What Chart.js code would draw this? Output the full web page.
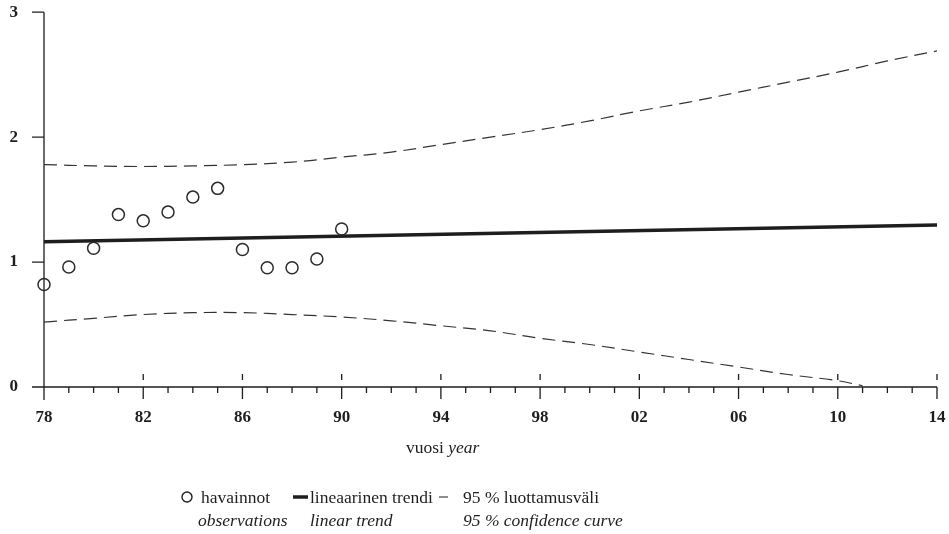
<!DOCTYPE html>
<html>
<head>
<meta charset="utf-8">
<script src="https://cdn.jsdelivr.net/npm/chart.js@4.4.1/dist/chart.umd.min.js"></script>
<style>
  html, body { margin: 0; padding: 0; background: #ffffff; }
  #wrap { width: 949px; height: 534px; }
</style>
</head>
<body>
<div id="wrap"><canvas id="c" width="949" height="534"></canvas></div>
<script>
// Observations (year, value)
const obsYears  = [1978, 1979, 1980, 1981, 1982, 1983, 1984, 1985, 1986, 1987, 1988, 1989, 1990];
const obsValues = [0.82, 0.96, 1.11, 1.38, 1.33, 1.40, 1.52, 1.59, 1.10, 0.955, 0.955, 1.025, 1.265];

// Linear trend end points
const trendYears  = [1978, 2014];
const trendValues = [1.163, 1.296];

// 95 % confidence curve
const upperYears  = [1978, 1980, 1982, 1984, 1986, 1988, 1990, 1992, 1994, 1996, 1998, 2000, 2002, 2004, 2006, 2008, 2010, 2012, 2014];
const upperValues = [1.78, 1.77, 1.765, 1.77, 1.78, 1.80, 1.84, 1.88, 1.94, 2.00, 2.06, 2.13, 2.21, 2.28, 2.36, 2.44, 2.52, 2.61, 2.69];
const lowerYears  = [1978, 1980, 1982, 1984, 1986, 1988, 1990, 1992, 1994, 1996, 1998, 2000, 2002, 2004, 2006, 2008, 2010, 2011];
const lowerValues = [0.52, 0.55, 0.58, 0.595, 0.595, 0.58, 0.56, 0.53, 0.49, 0.45, 0.39, 0.34, 0.28, 0.22, 0.16, 0.10, 0.05, 0.01];

// Axis ticks
const xTickYears  = [1978, 1982, 1986, 1990, 1994, 1998, 2002, 2006, 2010, 2014];
const xTickLabels = ['78', '82', '86', '90', '94', '98', '02', '06', '10', '14'];
const yTickValues = [0, 1, 2, 3];

const INK = '#1e1e1e';
const SERIF = '"Liberation Serif", "Times New Roman", serif';

const pts = (xs, ys) => xs.map((x, i) => ({ x: x, y: ys[i] }));

// Axis lines, year ticks and the texts below the plot
const axisMarks = {
  id: 'axisMarks',
  beforeDatasetsDraw(chart) {
    const ctx = chart.ctx;
    const xs = chart.scales.x, ys = chart.scales.y;
    const a = chart.chartArea;
    const x0 = xs.getPixelForValue(xs.min);
    const y0 = ys.getPixelForValue(0);
    ctx.save();
    ctx.strokeStyle = INK;
    ctx.lineWidth = 1.3;
    ctx.beginPath();
    // vertical axis, running a little below the horizontal one
    ctx.moveTo(x0, a.top); ctx.lineTo(x0, y0 + 13);
    // horizontal axis, starting a little left of the vertical one
    ctx.moveTo(x0 - 12, y0); ctx.lineTo(a.right, y0);
    // value ticks to the left
    yTickValues.forEach(v => {
      const py = ys.getPixelForValue(v);
      ctx.moveTo(x0 - 12, py); ctx.lineTo(x0, py);
    });
    // yearly ticks, longer ones with a short mark above the axis at labelled years
    for (let yr = xs.min; yr <= xs.max; yr++) {
      const px = xs.getPixelForValue(yr);
      const major = xTickYears.includes(yr);
      ctx.moveTo(px, y0); ctx.lineTo(px, y0 + (major ? 12 : 6));
      if (major && yr !== xs.min) {
        ctx.moveTo(px, y0 - 13); ctx.lineTo(px, y0 - 7);
      }
    }
    ctx.stroke();
    ctx.restore();
  },
  afterDraw(chart) {
    const ctx = chart.ctx;
    ctx.save();
    ctx.fillStyle = INK;
    ctx.textBaseline = 'alphabetic';
    ctx.textAlign = 'left';
    const reg = '17.5px ' + SERIF;
    const ita = 'italic 17.5px ' + SERIF;

    // axis title: "vuosi year"
    ctx.font = reg;
    const w1 = ctx.measureText('vuosi ').width;
    ctx.fillText('vuosi ', 406, 453);
    ctx.font = ita;
    ctx.fillText('year', 406 + w1, 453);

    // legend keys
    ctx.strokeStyle = INK;
    ctx.lineWidth = 1.4;
    ctx.beginPath();
    ctx.arc(187, 497, 5, 0, Math.PI * 2);
    ctx.stroke();
    ctx.lineWidth = 3.5;
    ctx.beginPath();
    ctx.moveTo(293, 497); ctx.lineTo(308, 497);
    ctx.stroke();
    ctx.lineWidth = 1;
    ctx.beginPath();
    ctx.moveTo(439, 497); ctx.lineTo(448, 497);
    ctx.stroke();

    // legend texts
    ctx.font = reg;
    ctx.fillText('havainnot', 201, 503);
    ctx.fillText('lineaarinen trendi', 310, 503);
    ctx.fillText('95 % luottamusväli', 463, 503);
    ctx.font = ita;
    ctx.fillText('observations', 198, 526);
    ctx.fillText('linear trend', 310, 526);
    ctx.fillText('95 % confidence curve', 463, 526);
    ctx.restore();
  }
};

// invisible tick marks only reserve room between the axes and their labels
const spacerGrid = len => ({
  display: true,
  drawOnChartArea: false,
  drawTicks: true,
  tickLength: len,
  color: 'rgba(0,0,0,0)'
});

new Chart(document.getElementById('c'), {
  type: 'scatter',
  data: {
    datasets: [
      {
        label: 'havainnot',
        data: pts(obsYears, obsValues),
        showLine: false,
        clip: false,
        pointStyle: 'circle',
        pointRadius: 6,
        pointBorderWidth: 1.5,
        pointBorderColor: '#2a2a2a',
        pointBackgroundColor: 'rgba(0,0,0,0)'
      },
      {
        label: 'lineaarinen trendi',
        data: pts(trendYears, trendValues),
        showLine: true,
        borderColor: INK,
        borderWidth: 3.5,
        pointRadius: 0
      },
      {
        label: '95 % luottamusväli',
        data: pts(upperYears, upperValues),
        showLine: true,
        borderColor: '#333333',
        borderWidth: 1.2,
        borderDash: [13, 7],
        tension: 0.4,
        pointRadius: 0
      },
      {
        label: '95 % luottamusväli (ala)',
        data: pts(lowerYears, lowerValues),
        showLine: true,
        borderColor: '#333333',
        borderWidth: 1.2,
        borderDash: [13, 7],
        tension: 0.4,
        pointRadius: 0
      }
    ]
  },
  options: {
    responsive: false,
    devicePixelRatio: 1,
    animation: false,
    layout: { padding: { top: 12, right: 12, left: 0, bottom: 0 } },
    plugins: { legend: { display: false }, tooltip: { enabled: false } },
    scales: {
      x: {
        type: 'linear',
        min: 1978,
        max: 2014,
        afterBuildTicks: s => { s.ticks = xTickYears.map(v => ({ value: v })); },
        afterFit: s => { s.height = 147; },
        grid: spacerGrid(19),
        border: { display: false },
        ticks: {
          autoSkip: false,
          maxRotation: 0,
          padding: 1,
          color: INK,
          font: { family: SERIF, size: 17, weight: 'bold' },
          callback: v => xTickLabels[xTickYears.indexOf(v)]
        }
      },
      y: {
        min: 0,
        max: 3,
        afterBuildTicks: s => { s.ticks = yTickValues.map(v => ({ value: v })); },
        afterFit: s => { s.width = 44; },
        grid: spacerGrid(24),
        border: { display: false },
        ticks: {
          padding: 2,
          color: INK,
          font: { family: SERIF, size: 17, weight: 'bold' },
          callback: v => String(v)
        }
      }
    }
  },
  plugins: [axisMarks]
});
</script>
</body>
</html>
